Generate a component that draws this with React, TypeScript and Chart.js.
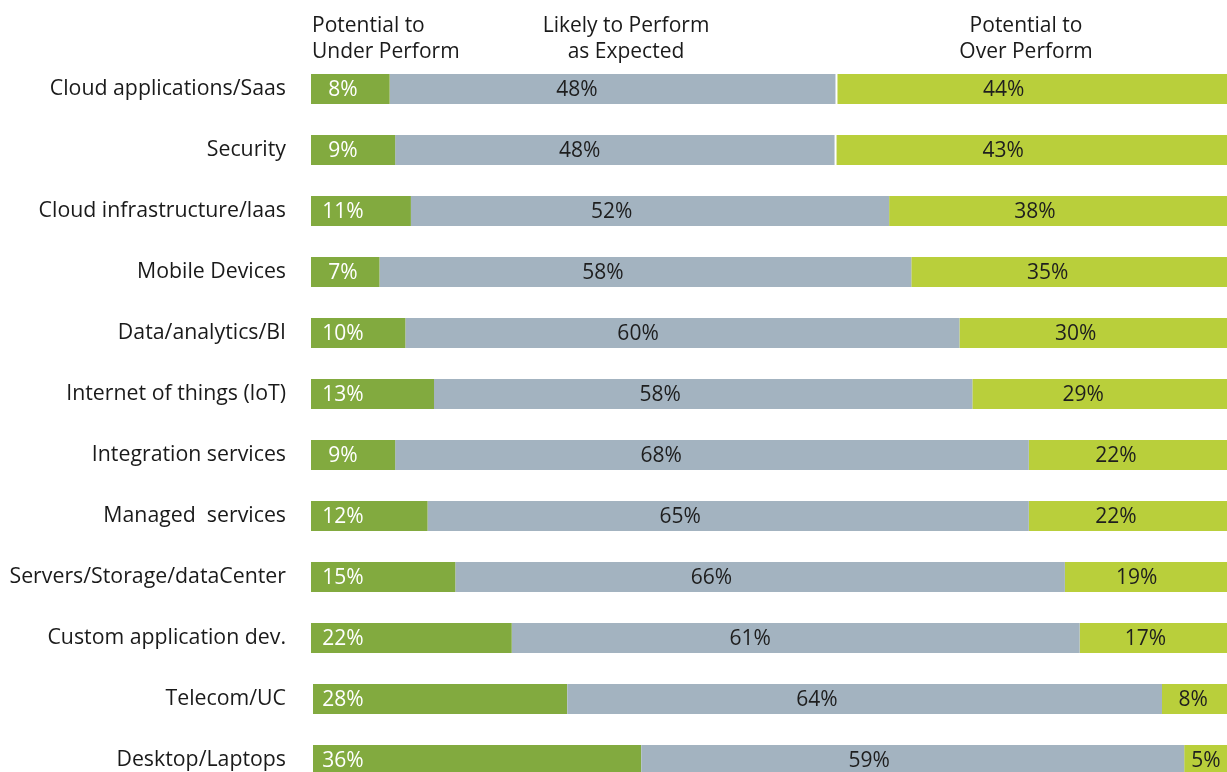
import React, { useEffect, useRef } from "react";
import { Chart, registerables } from "chart.js";

Chart.register(...registerables);

const categories = [
  "Cloud applications/Saas",
  "Security",
  "Cloud infrastructure/laas",
  "Mobile Devices",
  "Data/analytics/BI",
  "Internet of things (loT)",
  "Integration services",
  "Managed  services",
  "Servers/Storage/dataCenter",
  "Custom application dev.",
  "Telecom/UC",
  "Desktop/Laptops",
];

// bar lengths (percent of row)
const underValues = [8.5, 9.1, 10.8, 7.4, 10.2, 13.3, 9.1, 12.6, 15.6, 21.7, 27.7, 35.7];
const expectedValues = [48.2, 47.5, 51.7, 57.5, 59.9, 58.2, 68.5, 65.0, 65.9, 61.4, 64.3, 58.7];
const overValues = [43.3, 43.4, 37.5, 35.1, 29.9, 28.5, 22.4, 22.4, 18.5, 16.9, 8.0, 5.6];

// printed labels
const underLabels = [8, 9, 11, 7, 10, 13, 9, 12, 15, 22, 28, 36];
const expectedLabels = [48, 48, 52, 58, 60, 58, 68, 65, 66, 61, 64, 59];
const overLabels = [44, 43, 38, 35, 30, 29, 22, 22, 19, 17, 8, 5];

const seriesNames = ["Potential to Under Perform", "Likely to Perform as Expected", "Potential to Over Perform"];

// rows whose segment shows a thin white separator on its left edge
const overSeparatorRows = [0, 1];
const underSeparatorRows = [10, 11];

const FONT = "'Open Sans', 'Noto Sans', sans-serif";

const labelPlugin = {
  id: "segLabels",
  afterDatasetsDraw(chart: any) {
    const ctx = chart.ctx;
    const labelSets = [underLabels, expectedLabels, overLabels];
    ctx.save();
    ctx.font = `21px ${FONT}`;
    ctx.textBaseline = "middle";
    ctx.textAlign = "center";
    chart.data.datasets.forEach((ds: any, di: number) => {
      const meta = chart.getDatasetMeta(di);
      meta.data.forEach((bar: any, i: number) => {
        const { x, y, base } = bar.getProps(["x", "y", "base"], true);
        const text = labelSets[di][i] + "%";
        let tx: number;
        if (di === 0) {
          ctx.fillStyle = "#ffffff";
          tx = base + 32;
        } else {
          ctx.fillStyle = "#1e1e1e";
          tx = base + (x - base) * 0.42;
        }
        ctx.fillText(text, tx, y + 1);
      });
    });
    ctx.restore();
  },
};

export default function App() {
  const canvasRef = useRef<HTMLCanvasElement | null>(null);

  useEffect(() => {
    if (!canvasRef.current) return;
    const sepWidth = (rows: number[]) => (c: any) =>
      rows.includes(c.dataIndex) ? { left: 2, right: 0, top: 0, bottom: 0 } : 0;
    const chart = new Chart(canvasRef.current, {
      type: "bar",
      data: {
        labels: categories,
        datasets: [
          {
            label: seriesNames[0],
            data: underValues,
            backgroundColor: "#82aa3f",
            borderColor: "#ffffff",
            borderSkipped: false,
            borderWidth: sepWidth(underSeparatorRows),
          },
          { label: seriesNames[1], data: expectedValues, backgroundColor: "#a3b3c0", borderWidth: 0 },
          {
            label: seriesNames[2],
            data: overValues,
            backgroundColor: "#b9cf3b",
            borderColor: "#ffffff",
            borderSkipped: false,
            borderWidth: sepWidth(overSeparatorRows),
          },
        ],
      },
      options: {
        indexAxis: "y",
        responsive: true,
        maintainAspectRatio: false,
        animation: false,
        devicePixelRatio: 1,
        layout: { padding: { top: 58.5, bottom: 9.5, left: 0, right: 0 } },
        datasets: {
          bar: { barPercentage: 0.49, categoryPercentage: 1 },
        },
        plugins: {
          legend: { display: false },
          tooltip: { enabled: false },
        },
        scales: {
          x: { stacked: true, min: 0, max: 100, display: false },
          y: {
            stacked: true,
            grid: { display: false, drawTicks: false },
            border: { display: false },
            ticks: {
              padding: 25,
              color: "#1a1a1a",
              font: { family: FONT, size: 21.3 },
            },
            afterFit(scale: any) {
              scale.width = 311;
              scale.paddingTop = 0;
              scale.paddingBottom = 0;
            },
          },
        },
      },
      plugins: [labelPlugin],
    } as any);
    return () => chart.destroy();
  }, []);

  const headStyle: React.CSSProperties = {
    position: "absolute",
    top: 11,
    fontFamily: FONT,
    fontSize: 21,
    lineHeight: "26px",
    color: "#1a1a1a",
    whiteSpace: "nowrap",
  };

  return (
    <div
      style={{
        position: "fixed",
        left: 0,
        top: 0,
        width: 1227,
        height: 772,
        overflow: "hidden",
        background: "#ffffff",
      }}
    >
      <div style={{ position: "absolute", left: 0, top: 0, width: 1236, height: 800 }}>
        <canvas ref={canvasRef} style={{ display: "block" }} />
      </div>
      <div style={{ ...headStyle, left: 312, textAlign: "left" }}>
        Potential to
        <br />
        Under Perform
      </div>
      <div style={{ ...headStyle, left: 626, transform: "translateX(-50%)", textAlign: "center" }}>
        Likely to Perform
        <br />
        as Expected
      </div>
      <div style={{ ...headStyle, left: 1026, transform: "translateX(-50%)", textAlign: "center" }}>
        Potential to
        <br />
        Over Perform
      </div>
    </div>
  );
}
